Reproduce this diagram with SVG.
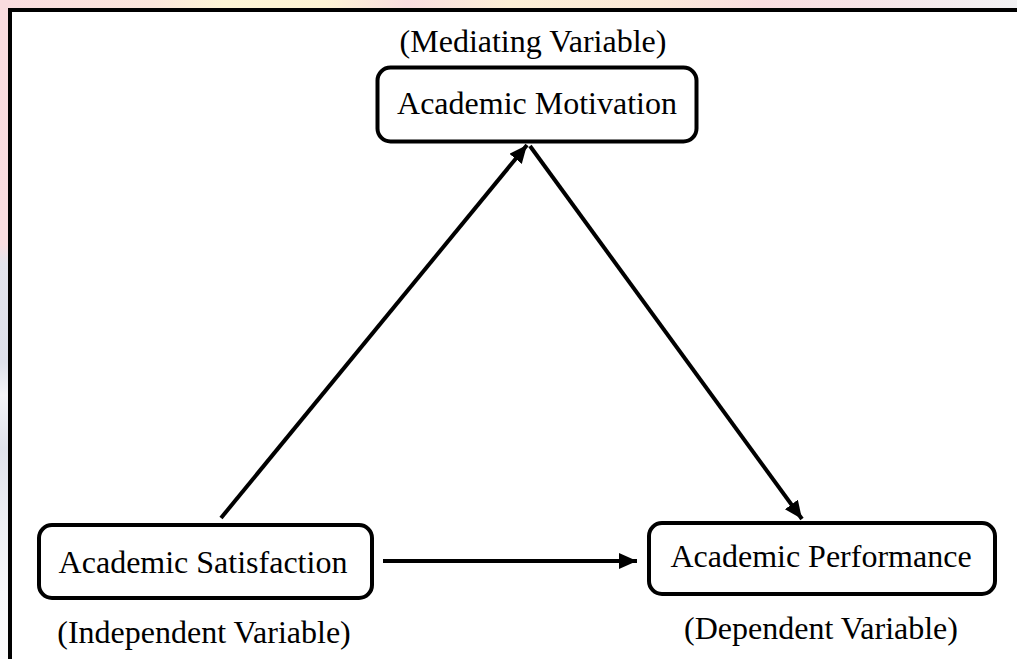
<svg xmlns="http://www.w3.org/2000/svg" width="1017" height="659" viewBox="0 0 1017 659">
  <defs>
    <linearGradient id="topband" x1="0" y1="0" x2="1" y2="0">
      <stop offset="0" stop-color="#f9dcdf"/>
      <stop offset="0.15" stop-color="#fbe6dc"/>
      <stop offset="0.22" stop-color="#fdf5d6"/>
      <stop offset="0.32" stop-color="#fdf3d4"/>
      <stop offset="0.4" stop-color="#f9dde0"/>
      <stop offset="0.5" stop-color="#fcefd6"/>
      <stop offset="0.65" stop-color="#fbe8d8"/>
      <stop offset="0.75" stop-color="#f9dde0"/>
      <stop offset="0.85" stop-color="#f6e3e6"/>
      <stop offset="1" stop-color="#f2f2f4"/>
    </linearGradient>
    <linearGradient id="leftband" x1="0" y1="0" x2="0" y2="1">
      <stop offset="0" stop-color="#f9dcdf"/>
      <stop offset="0.37" stop-color="#f9dde0"/>
      <stop offset="0.4" stop-color="#e2e3ec"/>
      <stop offset="0.55" stop-color="#dde0ea"/>
      <stop offset="0.6" stop-color="#f3f4f7"/>
      <stop offset="0.68" stop-color="#dfe2eb"/>
      <stop offset="0.78" stop-color="#eceef3"/>
      <stop offset="0.9" stop-color="#f7f8fa"/>
      <stop offset="1" stop-color="#fbfbfc"/>
    </linearGradient>
    <marker id="arrow" markerUnits="userSpaceOnUse" markerWidth="20" markerHeight="18" refX="18" refY="8" orient="auto">
      <path d="M0,0 L18,8 L0,16 Z" fill="#000"/>
    </marker>
  </defs>
  <style>
    .box { fill: #fff; stroke: #000; stroke-width: 4; }
    .lbl { font-family: "Liberation Serif", "Times New Roman", serif; font-size: 32px; fill: #000; text-anchor: middle; }
    .conn { stroke: #000; stroke-width: 4; fill: none; marker-end: url(#arrow); }
  </style>

  <rect x="0" y="0" width="1017" height="659" fill="#ffffff"/>
  <rect x="0" y="0" width="1017" height="10" fill="url(#topband)"/>
  <rect x="0" y="0" width="10" height="659" fill="url(#leftband)"/>
  <path d="M10,659 V10 H1017" fill="none" stroke="#000" stroke-width="4"/>

  <g id="connectors">
    <line class="conn" x1="221" y1="518" x2="527" y2="145"/>
    <line class="conn" x1="530" y1="146" x2="802" y2="519"/>
    <line class="conn" x1="383" y1="561" x2="637" y2="561"/>
  </g>

  <g id="node-motivation">
    <text class="lbl" x="533" y="52">(Mediating Variable)</text>
    <rect class="box" x="377.5" y="67.5" width="319" height="74" rx="13" ry="13"/>
    <text class="lbl" x="537" y="114">Academic Motivation</text>
  </g>

  <g id="node-satisfaction">
    <rect class="box" x="39" y="525" width="333" height="73" rx="13" ry="13"/>
    <text class="lbl" x="203" y="573">Academic Satisfaction</text>
    <text class="lbl" x="204" y="643">(Independent Variable)</text>
  </g>

  <g id="node-performance">
    <rect class="box" x="649" y="523" width="346" height="71" rx="13" ry="13"/>
    <text class="lbl" x="821" y="567">Academic Performance</text>
    <text class="lbl" x="821" y="639">(Dependent Variable)</text>
  </g>
</svg>
